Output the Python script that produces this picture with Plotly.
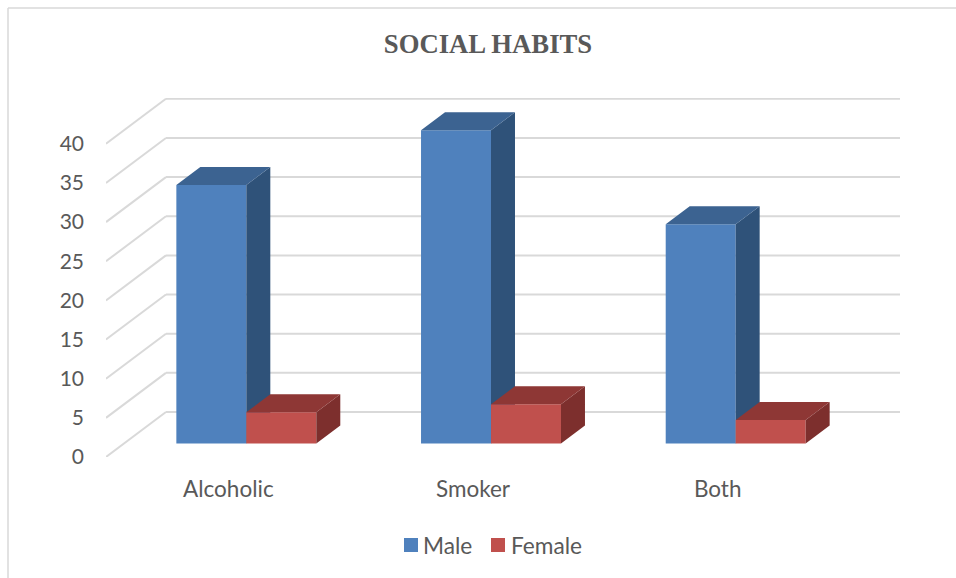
import plotly.graph_objects as go

categories = ["Alcoholic", "Smoker", "Both"]
male = [33, 40, 28]
female = [4, 5, 3]
y_ticks = [0, 5, 10, 15, 20, 25, 30, 35, 40]
series_names = ["Male", "Female"]
series_colors = ["#4F81BD", "#C0504D"]

# Pseudo-3D layout, in axis units
X_MIN, X_MAX = -0.5, 2.745
Y_MAX = 45.85
WALL_DX, WALL_DY = 0.245, 5.75     # shift from the front of the floor to the back wall
FRONT = 0.30                       # depth of the front of the bars, as a share of the wall shift
DEPTH = 0.40                       # depth of the bars, same share
BAR_W = 0.286
GAP = 0.214
GRID = "#D9D9D9"
TEXT = "#595959"

base = FRONT * WALL_DY
shift_x = FRONT * WALL_DX
dx, dy = DEPTH * WALL_DX, DEPTH * WALL_DY


def lefts(slot):
    return [i - 0.5 + GAP + shift_x + slot * BAR_W for i in range(len(categories))]


def faces(values, slot):
    top_x, top_y, side_x, side_y = [], [], [], []
    for x0, v in zip(lefts(slot), values):
        x1 = x0 + BAR_W
        y1 = base + v
        top_x += [x0, x1, x1 + dx, x0 + dx, x0, None]
        top_y += [y1, y1, y1 + dy, y1 + dy, y1, None]
        side_x += [x1, x1 + dx, x1 + dx, x1, x1, None]
        side_y += [base, base + dy, y1 + dy, y1, base, None]
    return top_x, top_y, side_x, side_y


def add_series(fig, name, values, slot, front, top, side, xa, ya):
    fig.add_trace(go.Bar(
        x=lefts(slot), y=values, base=base, width=BAR_W, offset=0, name=name,
        marker=dict(color=front, line=dict(width=0)), xaxis=xa, yaxis=ya,
    ))
    tx, ty, sx, sy = faces(values, slot)
    for fx, fy, col in ((sx, sy, side), (tx, ty, top)):
        fig.add_trace(go.Scatter(
            x=fx, y=fy, mode="lines", fill="toself", fillcolor=col,
            line=dict(width=0, color=col), showlegend=False, hoverinfo="skip",
            xaxis=xa, yaxis=ya,
        ))


fig = go.Figure()
add_series(fig, series_names[0], male, 0, series_colors[0], "#3C6391", "#2F5279", "x", "y")
add_series(fig, series_names[1], female, 1, series_colors[1], "#8E3735", "#7D2F2D", "x2", "y2")

shapes = []
for v in y_ticks:
    shapes.append(dict(type="line", xref="x", yref="y", layer="below",
                       x0=X_MIN, y0=v, x1=X_MIN + WALL_DX, y1=v + WALL_DY,
                       line=dict(color=GRID, width=2)))
    shapes.append(dict(type="line", xref="x", yref="y", layer="below",
                       x0=X_MIN + WALL_DX, y0=v + WALL_DY, x1=X_MAX, y1=v + WALL_DY,
                       line=dict(color=GRID, width=2)))

# Outer frame of the chart (top and left edges)
L, R, T, B = 106, 56, 98, 121
PW, PH = 956 - L - R, 578 - T - B
px = lambda p: (p - L) / PW
py = lambda p: (578 - B - p) / PH
shapes.append(dict(type="line", xref="paper", yref="paper", x0=px(8), x1=px(956), y0=py(8), y1=py(8),
                   line=dict(color=GRID, width=1.5)))
shapes.append(dict(type="line", xref="paper", yref="paper", x0=px(8), x1=px(8), y0=py(8), y1=py(578),
                   line=dict(color=GRID, width=1.5)))

FONT = "Lato"
# Legend: swatch right next to its label, as in the reference
annotations = []
for name, col, sq_left, txt_left in zip(series_names, series_colors, (404, 491), (423, 511)):
    shapes.append(dict(type="rect", xref="paper", yref="paper", x0=px(sq_left), x1=px(sq_left + 14),
                       y0=py(552), y1=py(538), fillcolor=col, line=dict(width=0)))
    annotations.append(dict(text=name, xref="paper", yref="paper", x=px(txt_left), y=py(545),
                            xanchor="left", yanchor="middle", showarrow=False, xshift=-2,
                            font=dict(family=FONT, size=22.7, color=TEXT)))

fig.update_layout(
    width=956, height=578,
    margin=dict(l=L, r=R, t=T, b=B),
    paper_bgcolor="white", plot_bgcolor="rgba(0,0,0,0)",
    shapes=shapes,
    annotations=annotations,
    showlegend=False,
    barmode="overlay",
    title=dict(text="<b>SOCIAL HABITS</b>", x=488 / 956, xanchor="center", y=1 - 44 / 578, yanchor="middle",
               font=dict(family="Liberation Serif", size=26.7, color=TEXT)),
    xaxis=dict(range=[X_MIN, X_MAX], tickvals=list(range(len(categories))), ticktext=categories,
               showgrid=False, zeroline=False, showline=False, ticks="", ticklabelstandoff=16,
               tickfont=dict(family=FONT, size=22.5, color=TEXT)),
    yaxis=dict(range=[0, Y_MAX], tickvals=y_ticks, showgrid=False, zeroline=False, showline=False,
               ticks="", ticklabelstandoff=21, tickfont=dict(family=FONT, size=21, color=TEXT)),
    xaxis2=dict(range=[X_MIN, X_MAX], overlaying="x", visible=False),
    yaxis2=dict(range=[0, Y_MAX], overlaying="y", visible=False),
)

fig.write_html("out.html", post_script="document.body.style.margin='0';",
               config={"displayModeBar": False})
